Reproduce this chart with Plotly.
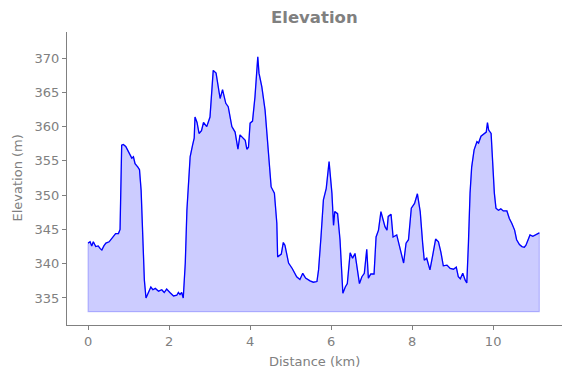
import plotly.graph_objects as go

distance_km = [
    0.00, 0.05, 0.09, 0.13, 0.19, 0.25, 0.30, 0.34, 0.39, 0.44, 0.52, 0.58, 0.62, 0.68, 0.75, 0.79,
    0.83, 0.87, 0.93, 0.98, 1.04, 1.08, 1.12, 1.16, 1.23, 1.27, 1.31, 1.34, 1.39, 1.43,
    1.49, 1.55, 1.60, 1.66, 1.74, 1.82, 1.88, 1.94, 2.02, 2.11, 2.19, 2.23, 2.27, 2.31, 2.35,
    2.40, 2.44, 2.48, 2.52, 2.58, 2.62, 2.64, 2.69, 2.74, 2.80, 2.85, 2.93, 3.01, 3.09, 3.16,
    3.26, 3.32, 3.40, 3.46, 3.55, 3.63, 3.70, 3.75, 3.83, 3.88, 3.92, 3.96, 4.00, 4.06, 4.12,
    4.19, 4.22, 4.29, 4.37, 4.45, 4.52, 4.60, 4.66, 4.68, 4.77, 4.82, 4.86, 4.95, 5.04,
    5.15, 5.23, 5.30, 5.37, 5.48, 5.56, 5.65, 5.69, 5.75, 5.81, 5.88, 5.95, 6.02, 6.06,
    6.09, 6.16, 6.22, 6.29, 6.35, 6.40, 6.47, 6.53, 6.59, 6.63, 6.70, 6.76, 6.82, 6.88,
    6.92, 6.98, 7.06, 7.11, 7.17, 7.23, 7.28, 7.33, 7.38, 7.41, 7.48, 7.53, 7.62, 7.70,
    7.79, 7.85, 7.91, 7.98, 8.06, 8.13, 8.20, 8.26, 8.30, 8.36, 8.44, 8.51, 8.58, 8.65,
    8.71, 8.77, 8.86, 8.94, 9.02, 9.09, 9.14, 9.19, 9.25, 9.31, 9.35, 9.39, 9.43, 9.47,
    9.53, 9.60, 9.64, 9.70, 9.78, 9.83, 9.86, 9.89, 9.95, 9.99, 10.03, 10.07, 10.13, 10.19,
    10.25, 10.34, 10.40, 10.46, 10.53, 10.58, 10.65, 10.71, 10.77, 10.81, 10.87, 10.91,
    10.98, 11.04, 11.10, 11.14,
]

elevation_m = [
    343.0, 343.2, 342.6, 343.2, 342.5, 342.6, 342.2, 342.0, 342.6, 343.0, 343.2, 343.7, 343.9, 344.4, 344.4, 345.0,
    357.3, 357.4, 357.1, 356.6, 355.8, 355.4, 355.6, 354.6, 354.1, 353.7, 350.7, 344.9, 337.6, 335.0,
    335.7, 336.6, 336.2, 336.4, 336.0, 336.2, 335.8, 336.3, 335.8, 335.3, 335.4, 335.8, 335.5, 335.8, 335.0,
    340.1, 347.8, 352.7, 355.6, 357.3, 358.3, 361.4, 360.6, 359.0, 359.4, 360.6, 360.0, 361.4, 368.2, 367.8,
    364.1, 365.4, 363.4, 362.9, 360.0, 359.2, 356.7, 358.8, 358.3, 358.0, 356.7, 357.0, 360.5, 360.8, 364.3,
    370.2, 367.8, 365.8, 362.4, 355.6, 351.2, 350.3, 345.9, 341.0, 341.4, 343.1, 342.7, 340.1, 339.3,
    338.1, 337.7, 338.6, 337.9, 337.5, 337.3, 337.4, 339.1, 343.9, 349.3, 351.0, 354.9, 350.3, 345.6,
    347.6, 347.3, 343.5, 335.7, 336.6, 337.1, 341.6, 340.8, 341.5, 339.6, 337.1, 338.1, 338.6, 342.1,
    337.9, 338.5, 338.5, 343.9, 344.9, 347.6, 346.4, 345.4, 344.9, 346.9, 347.2, 343.9, 344.2, 342.2,
    340.1, 343.0, 343.5, 348.1, 348.8, 350.2, 347.6, 343.0, 340.5, 340.8, 339.1, 341.3, 343.6, 343.2,
    341.7, 339.7, 339.8, 339.3, 339.2, 339.5, 338.1, 337.8, 338.6, 337.6, 337.2, 343.0, 350.3, 354.1,
    356.6, 357.8, 357.6, 358.6, 359.0, 359.2, 360.6, 359.5, 359.0, 354.6, 350.3, 348.1, 347.8, 348.0,
    347.7, 347.7, 346.6, 345.9, 344.9, 343.5, 342.8, 342.5, 342.4, 342.7, 343.7, 344.2,
    344.0, 344.2, 344.4, 344.5,
]

x_ticks = [0, 2, 4, 6, 8, 10]
y_ticks = [335, 340, 345, 350, 355, 360, 365, 370]

baseline = min(elevation_m) - 2.0

gray = "#808080"
font_family = "DejaVu Sans"
W, H = 571, 378
L, R, T, B = 67, 9, 32, 53

fig = go.Figure()

fig.add_trace(go.Scatter(
    x=distance_km + [distance_km[-1], distance_km[0], distance_km[0]],
    y=elevation_m + [baseline, baseline, elevation_m[0]],
    mode="lines",
    fill="toself",
    fillcolor="rgba(0,0,255,0.2)",
    line=dict(color="rgba(0,0,255,0.22)", width=1.2),
    hoverinfo="skip",
    showlegend=False,
))

fig.add_trace(go.Scatter(
    x=distance_km,
    y=elevation_m,
    mode="lines",
    line=dict(color="#0000ff", width=1.3),
    showlegend=False,
))

axis_common = dict(
    showgrid=False,
    zeroline=False,
    showline=True,
    linecolor=gray,
    linewidth=1,
    ticks="outside",
    ticklen=4,
    tickwidth=1,
    tickcolor=gray,
    tickfont=dict(family=font_family, size=13, color=gray),
    mirror=False,
    automargin=False,
)

fig.update_layout(
    width=W,
    height=H,
    margin=dict(l=L, r=R, t=T, b=B, autoexpand=False),
    paper_bgcolor="white",
    plot_bgcolor="white",
    xaxis=dict(range=[-0.52, 11.70], tickvals=x_ticks, **axis_common),
    yaxis=dict(range=[331.06, 373.8], tickvals=y_ticks, **axis_common),
    annotations=[
        dict(text="<b>Elevation</b>", xref="paper", yref="paper",
             x=0.5, y=1 + (T - 18) / (H - T - B), xanchor="center", yanchor="middle",
             showarrow=False, font=dict(family=font_family, size=16.5, color=gray)),
        dict(text="Distance (km)", xref="paper", yref="paper",
             x=0.5, y=-(361 - (H - B)) / (H - T - B), xanchor="center", yanchor="middle",
             showarrow=False, font=dict(family=font_family, size=13, color=gray)),
        dict(text="Elevation (m)", xref="paper", yref="paper",
             x=-(L - 17) / (W - L - R), y=0.5, xanchor="center", yanchor="middle",
             textangle=-90, showarrow=False, font=dict(family=font_family, size=13, color=gray)),
    ],
)

fig.write_html(
    "out.html",
    config={"displayModeBar": False},
    post_script="document.body.style.margin='0';document.body.style.padding='0';document.body.style.overflow='hidden';",
)
